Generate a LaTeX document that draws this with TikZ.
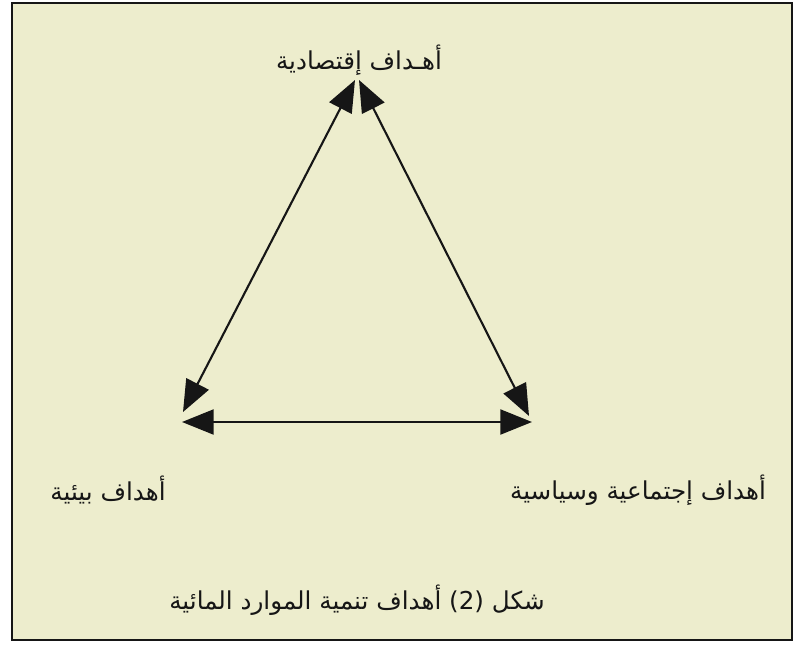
\documentclass[tikz,border=0pt]{standalone}
\usepackage{fontspec}
\newfontfamily\arabicfont[Script=Arabic]{DejaVu Sans}
\TeXXeTstate=1
\usetikzlibrary{arrows.meta}
\definecolor{pagecream}{HTML}{EDEDCD}
\definecolor{inkblack}{HTML}{161616}

\begin{document}
\begin{tikzpicture}[x=0.03cm,y=-0.03cm,
    goal/.style={font=\arabicfont\fontsize{21}{25}\selectfont,inner sep=0pt,text=inkblack},
    link/.style={inkblack,line width=1.8pt,{Triangle[length=0.95cm,width=0.75cm]}-{Triangle[length=0.95cm,width=0.75cm]}}]
    \useasboundingbox (0,0) rectangle (795,647);
    \draw[line width=1.6pt,inkblack,fill=pagecream] (12,3) rectangle (792,640);
    % labels
    \node[goal] (econ) at (359,60) {\beginR أهـداف إقتصادية\endR};
    \node[goal] (enviro) at (108,490) {\beginR أهداف بيئية\endR};
    \node[goal] (social) at (638,490) {\beginR أهداف إجتماعية وسياسية\endR};
    \node[goal] (caption) at (357,600) {\beginR شكل \beginL(2)\endL{} أهداف تنمية الموارد المائية\endR};
    % corners of the triangle
    \coordinate (apexL) at (355,80);
    \coordinate (apexR) at (359,80);
    \coordinate (leftU) at (183,412);
    \coordinate (leftD) at (182,422);
    \coordinate (rightU) at (529,416);
    \coordinate (rightD) at (532,422);
    \draw[link] (leftU) -- (apexL);
    \draw[link] (apexR) -- (rightU);
    \draw[link] (leftD) -- (rightD);
\end{tikzpicture}
\end{document}
